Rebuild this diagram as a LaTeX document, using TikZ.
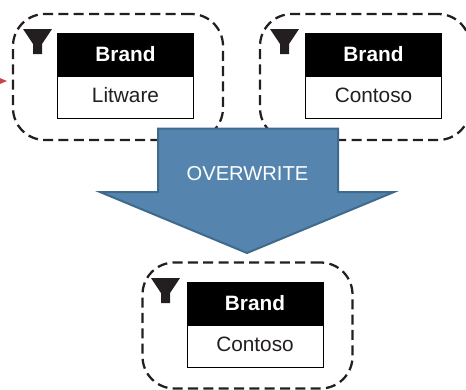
\documentclass[tikz,border=0pt]{standalone}
\usepackage{fontspec}
\setmainfont{Liberation Sans}
\usetikzlibrary{positioning,arrows.meta}

\definecolor{arrowblue}{HTML}{5585AE}
\definecolor{arrowedge}{HTML}{3F6A8C}
\definecolor{inkblack}{HTML}{231F20}
\definecolor{tipred}{HTML}{C8444A}

\tikzset{
  filterframe/.style={draw=inkblack,line width=1.7pt,dash pattern=on 7.5pt off 4pt,rounded corners=24pt,minimum width=157.5pt,minimum height=94.5pt,outer sep=0pt,inner sep=0pt},
  brandhead/.style={fill=black,text=white,font=\fontsize{15.6}{18}\selectfont\bfseries,text height=11.5pt,text depth=1.5pt,minimum width=102.75pt,minimum height=32.25pt,outer sep=0pt,inner sep=0pt},
  brandcell/.style={draw=black,line width=0.75pt,fill=white,text=inkblack,font=\fontsize{15.6}{18}\selectfont,text height=11.5pt,text depth=3pt,minimum width=102pt,minimum height=31.5pt,outer sep=0pt,inner sep=0pt},
}

\begin{document}
\begin{tikzpicture}[x=0.75pt,y=-0.75pt]
  \useasboundingbox (0,0) rectangle (466,389);
  \clip (0,0) rectangle (466,389);

  \node[filterframe] (frame1) at (118,77) {};
  \node[filterframe] (frame2) at (365,77) {};
  \node[filterframe] (frame3) at (247.5,325.5) {};

  \foreach \x/\y in {23/29,270/29,151/278} {
    \fill[inkblack] (\x,\y) -- ++(29,0) -- ++(-10,15) -- ++(0,10) -- ++(-9,0) -- ++(0,-10) -- cycle;
  }

  \node[brandhead] (head1) at (125.5,54.5) {Brand};
  \node[brandcell,below=0pt of head1] (cell1) {Litware};
  \node[brandhead] (head2) at (373.5,54.5) {Brand};
  \node[brandcell,below=0pt of head2] (cell2) {Contoso};
  \node[brandhead] (head3) at (255,303.5) {Brand};
  \node[brandcell,below=0pt of head3] (cell3) {Contoso};

  \coordinate (redstart) at (-20,81);
  \coordinate (redend) at (7,81);
  \draw[tipred,line width=0.75pt,-{Triangle[length=7.5pt,width=6pt]}] (redstart) -- (redend);

  \draw[line width=1.5pt,draw=arrowedge,fill=arrowblue,miter limit=10] (158,128.5) -- (338,128.5) -- (338,192) -- (394,192) -- (247,253) -- (100,192) -- (158,192) -- cycle;
  \node[text=white,font=\fontsize{15.1}{18}\selectfont] (overwrite) at (247.5,174) {OVERWRITE};
\end{tikzpicture}
\end{document}
